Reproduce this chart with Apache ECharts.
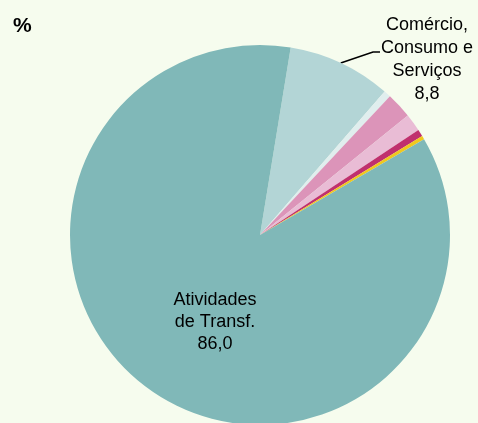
<!DOCTYPE html>
<html>
<head>
<meta charset="utf-8">
<script src="https://cdn.jsdelivr.net/npm/echarts@6/dist/echarts.min.js"></script>
<style>
  html, body { margin: 0; padding: 0; background: #f6fcee; }
  #chart { width: 478px; height: 423px; }
</style>
</head>
<body>
<div id="chart"></div>
<script>
// categories and values (%), clockwise from the top
var categories = ['Comércio, Consumo e Serviços', 'Outros 1', 'Outros 2', 'Outros 3', 'Outros 4', 'Outros 5', 'Atividades de Transf.'];
var labels = ['Comércio,\nConsumo e\nServiços\n8,8', '', '', '', '', '', 'Atividades\nde Transf.\n86,0'];
var values = [8.8, 0.6, 2.2, 1.5, 0.6, 0.3, 86.0];
var colors = ['#b3d5d6', '#e0eeee', '#dc94b9', '#e9bcd5', '#c0306e', '#f0c81e', '#80b8b8'];

var myChart = echarts.init(document.getElementById('chart'));

var data = values.map(function (v, i) {
    var item = { name: categories[i], value: v, itemStyle: { color: colors[i] } };
    if (i === 0) {
        item.label = { show: true, position: 'outside', lineHeight: 23 };
        item.labelLine = { show: true };
    } else if (i === values.length - 1) {
        item.label = { show: true, position: 'inside' };
        item.labelLine = { show: false };
    } else {
        item.label = { show: false };
        item.labelLine = { show: false };
    }
    return item;
});

myChart.setOption({
    backgroundColor: '#f6fcee',
    animation: false,
    title: {
        text: '%',
        left: 8,
        top: 11,
        textStyle: { fontFamily: 'Liberation Sans', fontSize: 21, fontWeight: 'bold', color: '#000' }
    },
    series: [{
        type: 'pie',
        center: [260, 235],
        radius: [0, 190],
        startAngle: 80.7,
        clockwise: true,
        avoidLabelOverlap: false,
        data: data,
        label: {
            formatter: function (p) { return labels[p.dataIndex]; },
            fontFamily: 'Liberation Sans',
            fontSize: 18,
            lineHeight: 22,
            color: '#000',
            align: 'center'
        },
        labelLine: {
            lineStyle: { color: '#000', width: 1.6 }
        },
        labelLayout: function (params) {
            if (params.dataIndex === 0) {
                var pts = params.labelLinePoints;
                return {
                    x: 427, y: 60, align: 'center', verticalAlign: 'middle',
                    labelLinePoints: pts ? [pts[0], [373, 52], [380, 52]] : undefined
                };
            }
            if (params.dataIndex === values.length - 1) {
                return { x: 215, y: 322, align: 'center', verticalAlign: 'middle' };
            }
        }
    }]
});
</script>
</body>
</html>
